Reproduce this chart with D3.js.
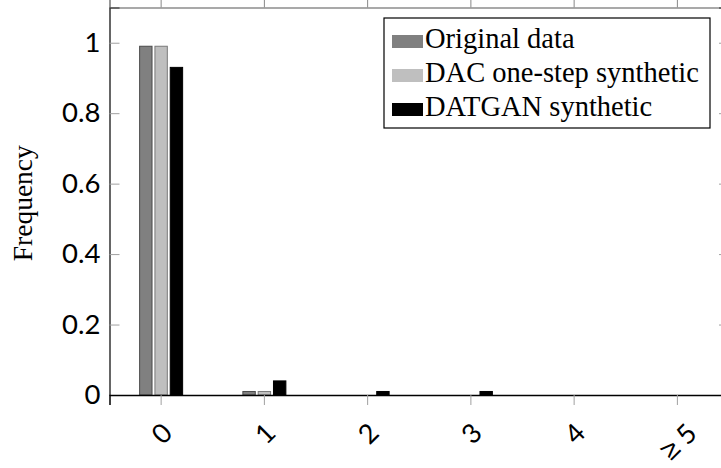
<!DOCTYPE html>
<html>
<head>
<meta charset="utf-8">
<script src="https://cdn.jsdelivr.net/npm/d3@7"></script>
<style>
  html, body { margin: 0; padding: 0; background: #fff; }
  svg { display: block; }
</style>
</head>
<body>
<svg id="chart" width="721" height="468"></svg>
<script>
// ---- data ----
const categories = ["0", "1", "2", "3", "4", "≥5"];
const seriesNames = ["Original data", "DAC one-step synthetic", "DATGAN synthetic"];
const originalData = [0.99, 0.01, 0, 0, 0, 0];
const dacSynthetic = [0.99, 0.01, 0, 0, 0, 0];
const datganSynthetic = [0.93, 0.04, 0.01, 0.01, 0, 0];
const yTicks = [0, 0.2, 0.4, 0.6, 0.8, 1];
const yTickLabels = ["0", "0.2", "0.4", "0.6", "0.8", "1"];

const seriesValues = [originalData, dacSynthetic, datganSynthetic];
const fills = ["#808080", "#bfbfbf", "#000000"];
const strokes = ["#4a4a4a", "#7a7a7a", "#000000"];

// ---- layout ----
const mLeft = 109.5, mRight = 729, mTop = 7.5, mBottom = 395;
const svg = d3.select("#chart");

const x = d3.scaleBand().domain(categories).range([mLeft, mRight]).padding(0);
const sub = d3.scaleBand().domain(seriesNames).range([-21.5, 21.5]).paddingInner(0.19).paddingOuter(0);
const y = d3.scaleLinear().domain([0, 1.1]).range([mBottom, mTop]);

// bars
seriesNames.forEach((name, si) => {
  svg.append("g").selectAll("rect")
    .data(categories.map((c, i) => ({ c, v: seriesValues[si][i] })))
    .join("rect")
    .attr("x", d => x(d.c) + x.bandwidth() / 2 + sub(name))
    .attr("width", sub.bandwidth())
    .attr("y", d => y(d.v))
    .attr("height", d => y(0) - y(d.v))
    .attr("fill", fills[si])
    .attr("stroke", strokes[si])
    .attr("stroke-width", 1);
});

const tickFont = "Lato, 'Open Sans', sans-serif";

// left axis
const yAxis = svg.append("g").attr("transform", `translate(${mLeft},0)`)
  .call(d3.axisLeft(y).tickValues(yTicks).tickFormat((d, i) => yTickLabels[i]).tickSize(-10).tickPadding(9));
yAxis.select(".domain").attr("stroke", "#000").attr("stroke-width", 1.2);
yAxis.selectAll(".tick line").attr("stroke", "#a0a0a0");
yAxis.selectAll(".tick text").attr("font-family", tickFont).attr("font-size", 27.5).attr("fill", "#000");

// right axis (mostly clipped)
const yAxisR = svg.append("g").attr("transform", `translate(${mRight},0)`)
  .call(d3.axisRight(y).tickValues(yTicks).tickFormat("").tickSize(-10));
yAxisR.select(".domain").attr("stroke", "#000");
yAxisR.selectAll(".tick line").attr("stroke", "#a0a0a0");

// top axis
const xTop = svg.append("g").attr("transform", `translate(0,${mTop})`)
  .call(d3.axisTop(x).tickFormat("").tickSize(8));
xTop.select(".domain").attr("stroke", "#555").attr("stroke-width", 1.2);
xTop.selectAll(".tick line").attr("stroke", "#888");

// bottom axis
const xAxis = svg.append("g").attr("transform", `translate(0,${mBottom})`)
  .call(d3.axisBottom(x).tickSize(10).tickFormat(""));
xAxis.select(".domain").attr("stroke", "#000").attr("stroke-width", 1.5);
xAxis.selectAll(".tick line").attr("stroke", "#a0a0a0");

// rotated x labels
const labelTop = 421;
const xl = svg.append("g");
categories.forEach(c => {
  const t = xl.append("text")
    .attr("font-family", tickFont).attr("font-size", 27)
    .attr("text-anchor", "middle").attr("dominant-baseline", "central");
  const isGe = c.startsWith("≥");
  const gap = 7;
  if (isGe) {
    t.append("tspan").attr("font-family", "'DejaVu Sans', sans-serif").attr("font-weight", 300)
      .attr("font-size", 28).text("≥");
    t.append("tspan").attr("dx", gap).text(c.slice(1));
  } else {
    t.text(c);
  }
  const len = t.node().getComputedTextLength() + (isGe ? gap : 0);
  const h = 18;
  const cy = labelTop + (len + h) * 0.7071 / 2;
  const cx = x(c) + x.bandwidth() / 2;
  t.attr("transform", `translate(${cx},${cy}) rotate(-45)`);
});

// y label
svg.append("text")
  .attr("transform", `translate(32,${(mTop + mBottom) / 2 + 2}) rotate(-90)`)
  .attr("text-anchor", "middle")
  .attr("font-family", "'Liberation Serif', 'Times New Roman', serif")
  .attr("font-size", 27.5)
  .text("Frequency");

// legend
const lg = svg.append("g");
lg.append("rect").attr("x", 384).attr("y", 18).attr("width", 326).attr("height", 110)
  .attr("fill", "#fff").attr("stroke", "#000").attr("stroke-width", 1.2);
seriesNames.forEach((name, i) => {
  const base = 48 + i * 34;
  lg.append("rect").attr("x", 392).attr("y", base - 13).attr("width", 31).attr("height", 13)
    .attr("fill", fills[i]);
  lg.append("text").attr("x", 425).attr("y", base)
    .attr("font-family", "'Liberation Serif', 'Times New Roman', serif")
    .attr("font-size", 28.5).text(name);
});
</script>
</body>
</html>
